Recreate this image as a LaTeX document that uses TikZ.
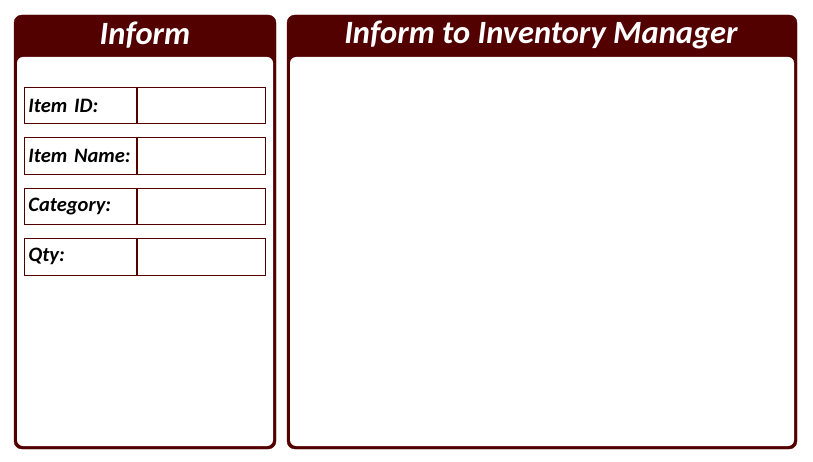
\documentclass[tikz,border=0pt]{standalone}
\usepackage{fontspec}
\setmainfont{Carlito}
\usetikzlibrary{positioning}
\definecolor{maroon4}{RGB}{82,0,0}

\begin{document}
\begin{tikzpicture}
              [x=1pt,y=-1pt,
                panel/.style={fill=maroon4,draw=maroon4,rounded corners=8pt},
                inner/.style={fill=white,draw=none,rounded corners=6pt},
                title/.style={text=white,font=\bfseries\itshape\fontsize{32.5}{36}\selectfont,inner sep=0pt},
                lbl/.style={draw=maroon4,line width=0.8pt,minimum width=112pt,minimum height=36.4pt,
                  text width=104pt,align=left,font=\bfseries\itshape\fontsize{20.5}{24}\selectfont,inner sep=4pt},
                val/.style={draw=maroon4,line width=0.8pt,minimum width=128pt,minimum height=36.4pt,inner sep=0pt}]
              \useasboundingbox (0,0) rectangle (813,462);
              \fill[white] (0,0) rectangle (813,462);
              % left panel
              \draw[panel] (14,15) rectangle (276,449);
              \fill[inner] (17,57) rectangle (273,446);
              \node[title] (t1) at (145,35) {Inform};
              % right panel
              \draw[panel] (287,15) rectangle (797,449);
              \fill[inner] (290,57) rectangle (794,446);
              \node[title] (t2) at (541,35) {Inform to Inventory Manager};
              % fields
              \node[lbl,anchor=north west] (n1) at (24,87) {Item ID:};
              \node[val,right=0pt of n1] (v1) {};
              \node[lbl,below=13.2pt of n1] (n2) {Item Name:};
              \node[val,right=0pt of n2] (v2) {};
              \node[lbl,below=13.2pt of n2] (n3) {Category:};
              \node[val,right=0pt of n3] (v3) {};
              \node[lbl,below=13.2pt of n3] (n4) {Qty:};
              \node[val,right=0pt of n4] (v4) {};
            \end{tikzpicture}
\end{document}
